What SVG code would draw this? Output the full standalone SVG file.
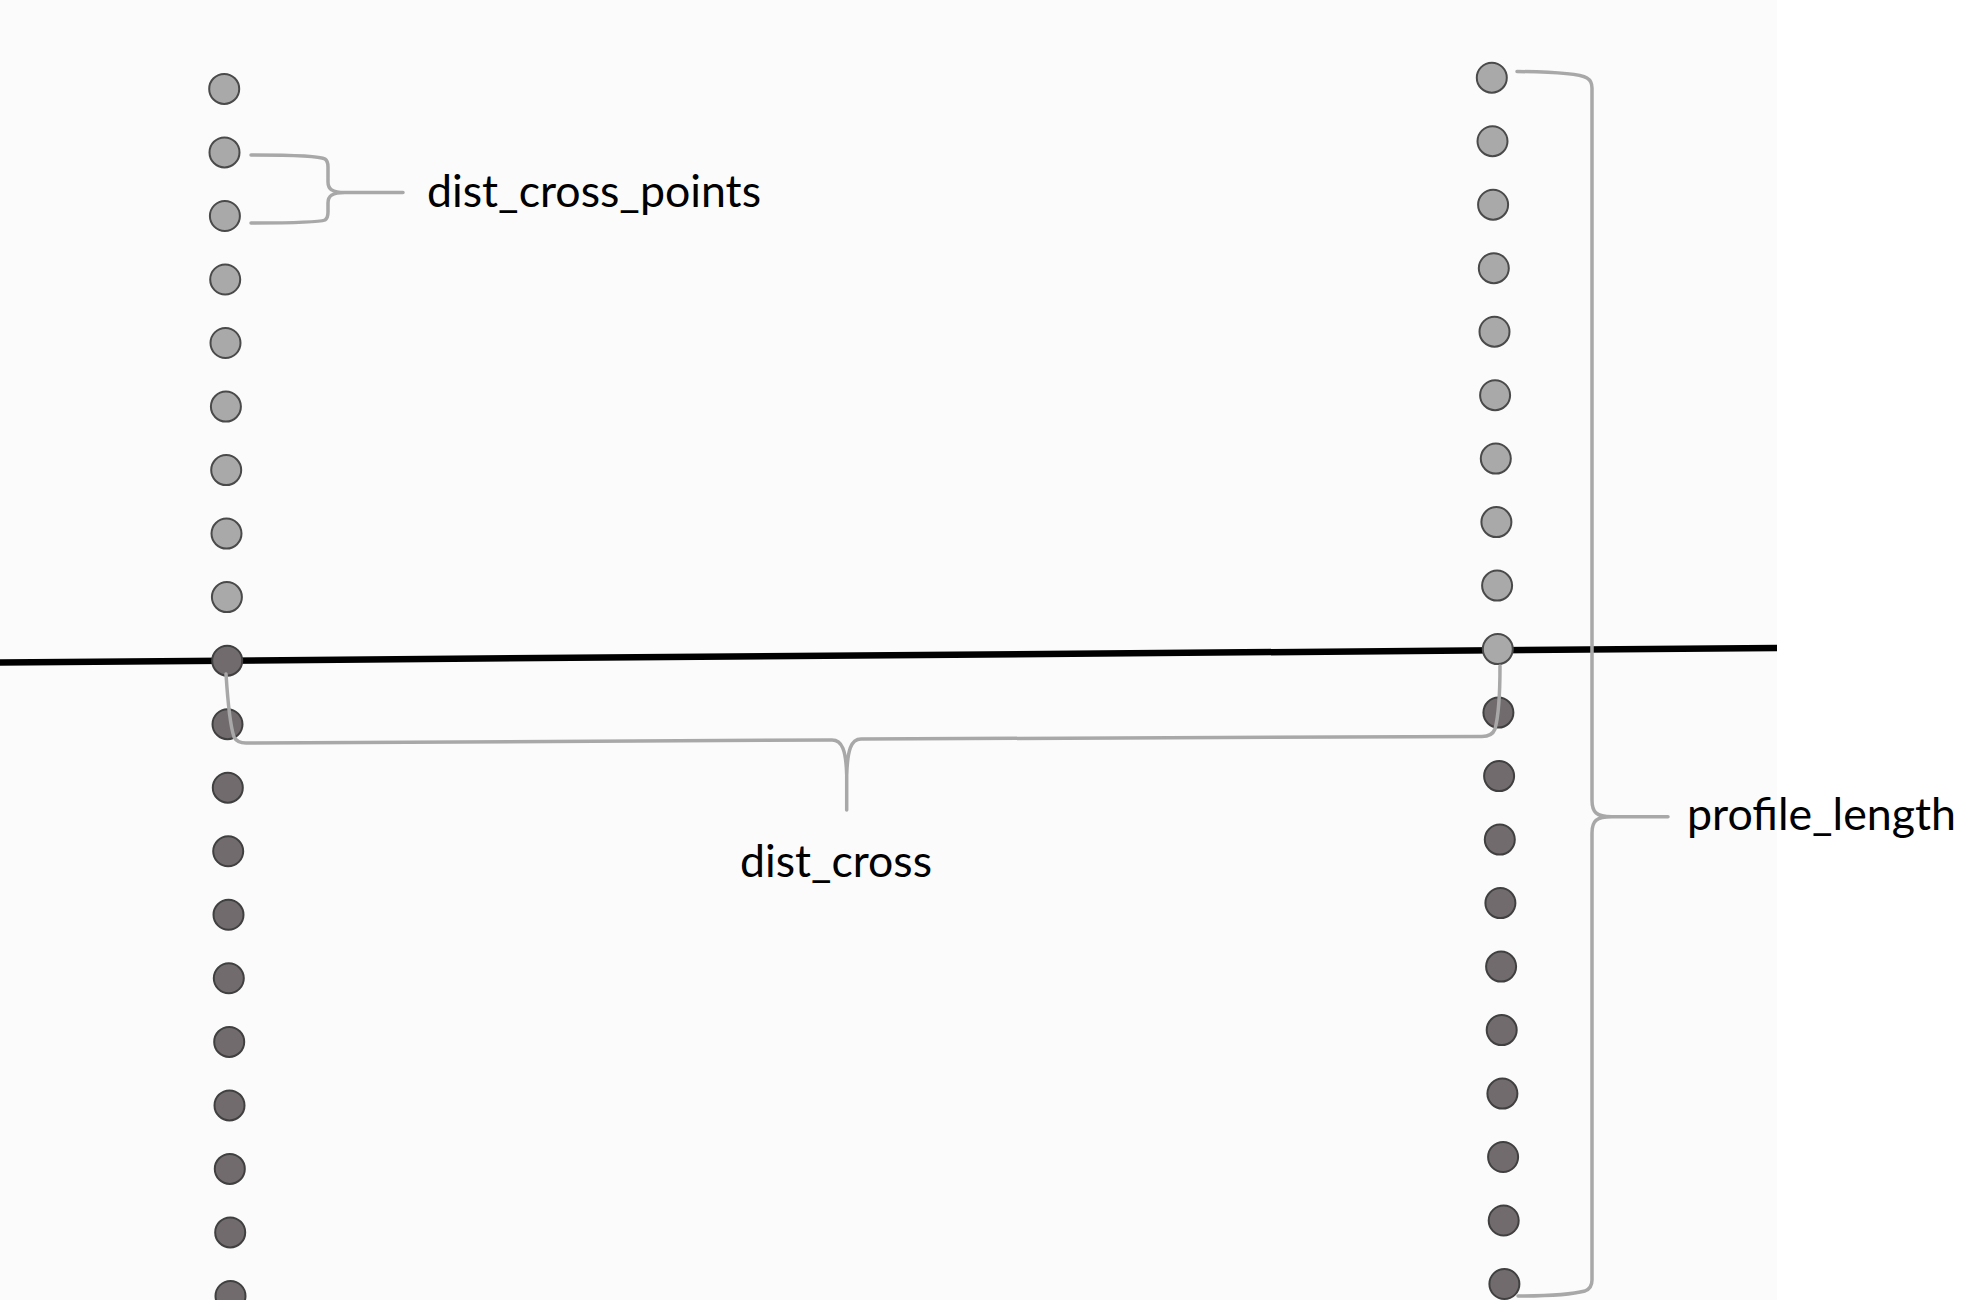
<svg xmlns="http://www.w3.org/2000/svg" width="1964" height="1300" viewBox="0 0 1964 1300">
<style>
.lt{fill:#a9a9a9;stroke:#4a4a4a;stroke-width:2}
.dk{fill:#716b6e;stroke:#404040;stroke-width:2}
.br{fill:none;stroke:#a8a8a8;stroke-width:3.5;stroke-linecap:round;stroke-linejoin:round}
.lbl{font-family:Lato,"Open Sans","Liberation Sans",sans-serif;font-size:44px;fill:#000}
</style>
<rect x="0" y="0" width="1964" height="1300" fill="#ffffff"/>
<rect x="0" y="0" width="1777" height="1300" fill="#fbfbfb"/>
<g id="base-line">
<line id="cross-line" x1="0" y1="662.5" x2="1777" y2="648" stroke="#000" stroke-width="6.5"/>
</g>
<g id="left-points">
<g id="L0"><circle class="lt" cx="224.2" cy="88.9" r="15"/></g>
<g id="L1"><circle class="lt" cx="224.5" cy="152.4" r="15"/></g>
<g id="L2"><circle class="lt" cx="224.9" cy="216.0" r="15"/></g>
<g id="L3"><circle class="lt" cx="225.2" cy="279.5" r="15"/></g>
<g id="L4"><circle class="lt" cx="225.5" cy="343.0" r="15"/></g>
<g id="L5"><circle class="lt" cx="225.9" cy="406.6" r="15"/></g>
<g id="L6"><circle class="lt" cx="226.2" cy="470.1" r="15"/></g>
<g id="L7"><circle class="lt" cx="226.5" cy="533.6" r="15"/></g>
<g id="L8"><circle class="lt" cx="226.9" cy="597.1" r="15"/></g>
<g id="L9"><circle class="dk" cx="227.2" cy="660.7" r="15"/></g>
<g id="L10"><circle class="dk" cx="227.5" cy="724.2" r="15"/></g>
<g id="L11"><circle class="dk" cx="227.8" cy="787.7" r="15"/></g>
<g id="L12"><circle class="dk" cx="228.2" cy="851.3" r="15"/></g>
<g id="L13"><circle class="dk" cx="228.5" cy="914.8" r="15"/></g>
<g id="L14"><circle class="dk" cx="228.8" cy="978.3" r="15"/></g>
<g id="L15"><circle class="dk" cx="229.2" cy="1041.9" r="15"/></g>
<g id="L16"><circle class="dk" cx="229.5" cy="1105.4" r="15"/></g>
<g id="L17"><circle class="dk" cx="229.8" cy="1168.9" r="15"/></g>
<g id="L18"><circle class="dk" cx="230.2" cy="1232.4" r="15"/></g>
<g id="L19"><circle class="dk" cx="230.5" cy="1296.0" r="15"/></g>
</g>
<g id="right-points">
<g id="R0"><circle class="lt" cx="1491.8" cy="77.7" r="15"/></g>
<g id="R1"><circle class="lt" cx="1492.5" cy="141.2" r="15"/></g>
<g id="R2"><circle class="lt" cx="1493.1" cy="204.7" r="15"/></g>
<g id="R3"><circle class="lt" cx="1493.8" cy="268.2" r="15"/></g>
<g id="R4"><circle class="lt" cx="1494.5" cy="331.7" r="15"/></g>
<g id="R5"><circle class="lt" cx="1495.1" cy="395.2" r="15"/></g>
<g id="R6"><circle class="lt" cx="1495.8" cy="458.6" r="15"/></g>
<g id="R7"><circle class="lt" cx="1496.4" cy="522.1" r="15"/></g>
<g id="R8"><circle class="lt" cx="1497.1" cy="585.6" r="15"/></g>
<g id="R9"><circle class="lt" cx="1497.8" cy="649.1" r="15"/></g>
<g id="R10"><circle class="dk" cx="1498.4" cy="712.6" r="15"/></g>
<g id="R11"><circle class="dk" cx="1499.1" cy="776.1" r="15"/></g>
<g id="R12"><circle class="dk" cx="1499.8" cy="839.6" r="15"/></g>
<g id="R13"><circle class="dk" cx="1500.4" cy="903.1" r="15"/></g>
<g id="R14"><circle class="dk" cx="1501.1" cy="966.6" r="15"/></g>
<g id="R15"><circle class="dk" cx="1501.7" cy="1030.1" r="15"/></g>
<g id="R16"><circle class="dk" cx="1502.4" cy="1093.6" r="15"/></g>
<g id="R17"><circle class="dk" cx="1503.1" cy="1157.0" r="15"/></g>
<g id="R18"><circle class="dk" cx="1503.7" cy="1220.5" r="15"/></g>
<g id="R19"><circle class="dk" cx="1504.4" cy="1284.0" r="15"/></g>
</g>
<g id="connectors">
<path id="brace-dist-cross-points" class="br" d="M251,155 C300,155 320,156 325,159 Q328,161 328,167 L328,182 C328,189 332,192.5 345,192.5 L403,192.5 M251,223 C300,223 320,222 325,220 Q328,218 328,212 L328,203 C328,196 332,192.5 345,192.5"/>
<path id="brace-dist-cross" class="br" d="M226,674 C228,705 231,728 234,737 Q237,743 246,743 L832,740 C842,740 846,750 846.7,775 L846.7,810 M846.7,775 C847.5,750 851,739 861,739 L1482,736.5 Q1492,736.5 1495,729 C1498,718 1500,695 1500,666"/>
<path id="brace-profile-length" class="br" d="M1517,71.5 C1560,72 1580,74 1587,78 Q1592,81 1592,88 L1592,800 C1592,812 1596,816.7 1612,816.7 L1668,816.7 M1612,816.7 C1596,816.7 1592,821 1592,833 L1592,1280 C1592,1286 1590,1289 1585,1291 C1570,1295 1545,1296 1518,1296"/>
</g>
<g id="label-dist-cross-points"><text class="lbl" x="427" y="207" textLength="334" lengthAdjust="spacingAndGlyphs">dist_cross_points</text></g>
<g id="label-dist-cross"><text class="lbl" x="740" y="877" textLength="192" lengthAdjust="spacingAndGlyphs">dist_cross</text></g>
<g id="label-profile-length"><text class="lbl" x="1687" y="830" textLength="269" lengthAdjust="spacingAndGlyphs">profile_length</text></g>
</svg>
